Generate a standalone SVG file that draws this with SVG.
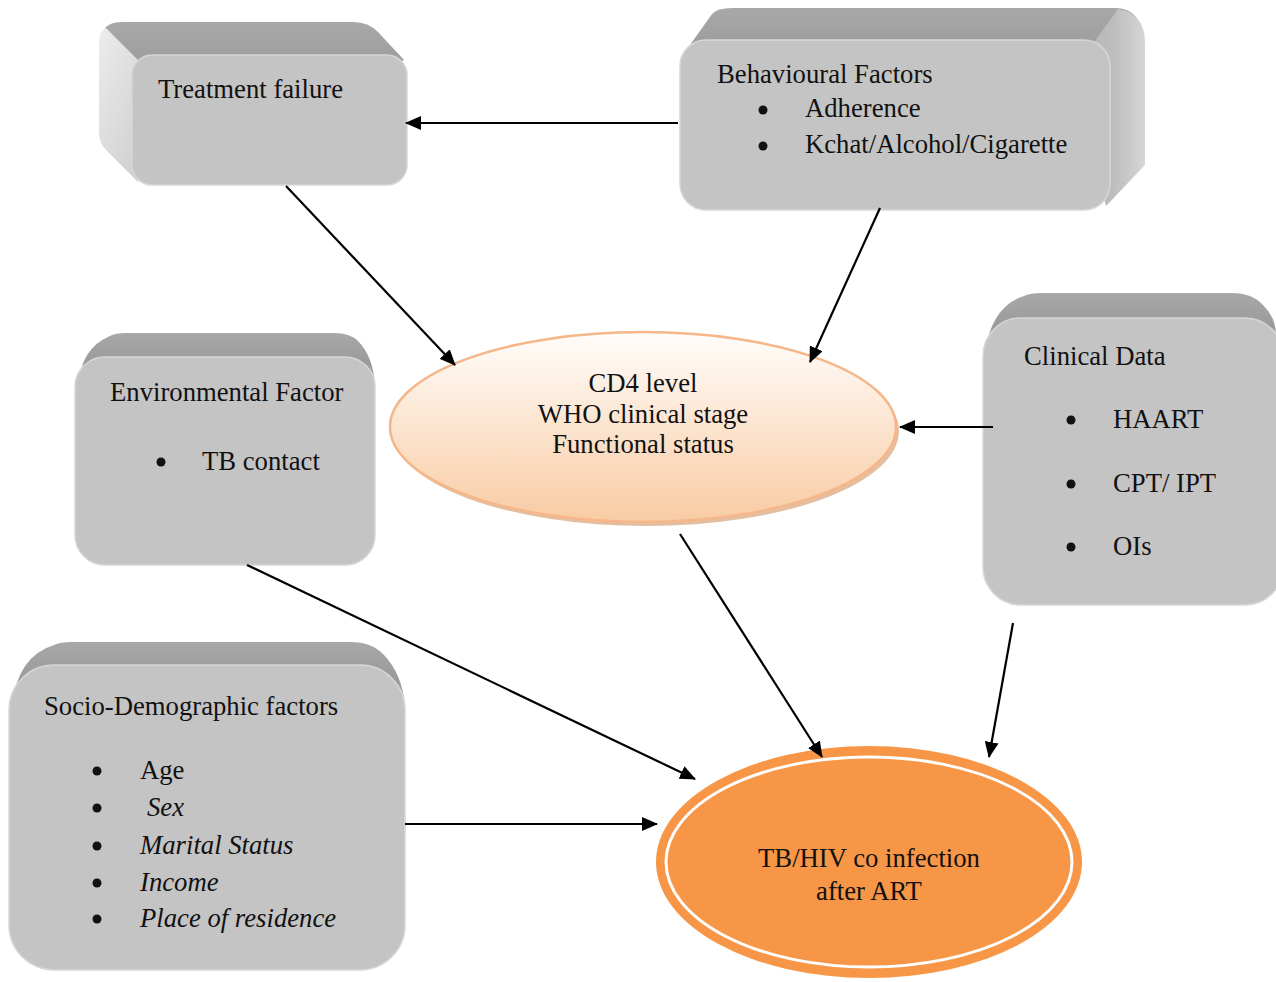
<svg xmlns="http://www.w3.org/2000/svg" width="1276" height="982" viewBox="0 0 1276 982">
<defs>
<style>
text{font-family:"Liberation Serif","Times New Roman",serif;font-size:26.7px;fill:#111}
.it{font-style:italic}
.front{fill:#c4c4c4;stroke:#d6d6d6;stroke-width:1.5}
.top{fill:url(#gTop)}
.conn{stroke:#000;stroke-width:2.2;fill:none;marker-end:url(#ah)}
</style>
<linearGradient id="gTop" x1="0" y1="0" x2="0" y2="1">
<stop offset="0" stop-color="#a8a8a8"/><stop offset="0.6" stop-color="#9a9a9a"/><stop offset="1" stop-color="#b0b0b0"/>
</linearGradient>
<linearGradient id="gLeft" x1="0" y1="0" x2="1" y2="1">
<stop offset="0" stop-color="#ececec"/><stop offset="1" stop-color="#c8c8c8"/>
</linearGradient>
<linearGradient id="gRight" x1="1" y1="0" x2="0" y2="0">
<stop offset="0" stop-color="#d6d6d6"/><stop offset="0.5" stop-color="#bdbdbd"/><stop offset="1" stop-color="#b4b4b4"/>
</linearGradient>
<linearGradient id="gCD4" x1="0" y1="0" x2="0" y2="1">
<stop offset="0" stop-color="#fffdfb"/><stop offset="1" stop-color="#f8cba3"/>
</linearGradient>
<marker id="ah" viewBox="0 0 16 14" refX="15" refY="7" markerWidth="16" markerHeight="14" markerUnits="userSpaceOnUse" orient="auto">
<path d="M0,0 L16,7 L0,14 Z" fill="#000"/>
</marker>
</defs>

<g id="treatment-failure">
<path class="top" d="M104,30 Q108,22 122,22 L354,22 Q368,22 378,32 L404,60 L300,110 L140,80 Z"/>
<path fill="url(#gLeft)" d="M99,42 Q99,32 106,28 L140,62 L160,120 L138,182 L106,150 Q99,143 99,132 Z"/>
<rect class="front" x="132" y="55" width="275" height="130" rx="20"/>
<text x="158" y="98">Treatment failure</text>
</g>

<g id="behavioural-factors">
<path class="top" d="M690,45 L712,14 Q717,8 732,8 L1115,8 Q1135,8 1142,28 L1100,80 L800,90 Z"/>
<path fill="url(#gRight)" d="M1118,9 Q1145,14 1145,42 L1145,165 L1106,206 L1080,110 L1092,45 Z"/>
<rect class="front" x="680" y="40" width="430" height="170" rx="26"/>
<text x="717" y="83">Behavioural Factors</text>
<circle cx="763" cy="110" r="4.5" fill="#111"/>
<text x="805" y="117">Adherence</text>
<circle cx="763" cy="146" r="4.5" fill="#111"/>
<text x="805" y="153">Kchat/Alcohol/Cigarette</text>
</g>

<g id="environmental-factor">
<path class="top" d="M78,385 Q82,348 108,337 Q114,333 126,333 L334,333 Q350,333 358,341 Q373,356 375,385 Z"/>
<rect class="front" x="75" y="357" width="300" height="208" rx="30"/>
<text x="110" y="401">Environmental Factor</text>
<circle cx="161" cy="462" r="4.5" fill="#111"/>
<text x="202" y="470">TB contact</text>
</g>

<g id="clinical-data">
<path class="top" d="M985,352 Q992,306 1024,296 Q1030,293 1042,293 L1232,293 Q1252,293 1263,305 Q1276,318 1276,335 Z"/>
<rect class="front" x="983" y="318" width="300" height="287" rx="38"/>
<text x="1024" y="365">Clinical Data</text>
<circle cx="1071" cy="420" r="4.5" fill="#111"/>
<text x="1113" y="428">HAART</text>
<circle cx="1071" cy="484" r="4.5" fill="#111"/>
<text x="1113" y="492">CPT/ IPT</text>
<circle cx="1071" cy="547" r="4.5" fill="#111"/>
<text x="1113" y="555">OIs</text>
</g>

<g id="socio-demographic">
<path class="top" d="M12,705 Q18,656 54,645 Q60,642 72,642 L350,642 Q372,642 384,655 Q402,674 405,705 Z"/>
<rect class="front" x="9" y="665" width="396" height="305" rx="45"/>
<text x="44" y="715">Socio-Demographic factors</text>
<circle cx="97" cy="771" r="4.5" fill="#111"/>
<text x="140" y="779">Age</text>
<circle cx="97" cy="808" r="4.5" fill="#111"/>
<text x="147" y="816" class="it">Sex</text>
<circle cx="97" cy="846" r="4.5" fill="#111"/>
<text x="140" y="854" class="it">Marital Status</text>
<circle cx="97" cy="883" r="4.5" fill="#111"/>
<text x="140" y="891" class="it">Income</text>
<circle cx="97" cy="919" r="4.5" fill="#111"/>
<text x="140" y="927" class="it">Place of residence</text>
</g>

<g id="cd4">
<ellipse cx="646" cy="431" rx="253" ry="95" fill="#dcae8a" opacity="0.8"/>
<ellipse cx="643" cy="427" rx="253" ry="95" fill="url(#gCD4)" stroke="#f5b789" stroke-width="2.5"/>
<text x="643" y="392" text-anchor="middle">CD4 level</text>
<text x="643" y="423" text-anchor="middle">WHO clinical stage</text>
<text x="643" y="453" text-anchor="middle">Functional status</text>
</g>

<g id="tbhiv">
<ellipse cx="869" cy="862" rx="213" ry="116" fill="#f79646"/>
<ellipse cx="869" cy="862" rx="203" ry="105" fill="none" stroke="#fff" stroke-width="3"/>
<text x="869" y="867" text-anchor="middle">TB/HIV co infection</text>
<text x="869" y="900" text-anchor="middle">after ART</text>
</g>

<g id="connectors">
<line class="conn" x1="678" y1="123" x2="406" y2="123"/>
<line class="conn" x1="286" y1="186" x2="455" y2="365"/>
<line class="conn" x1="880" y1="208" x2="810" y2="362"/>
<line class="conn" x1="993" y1="427" x2="900" y2="427"/>
<line class="conn" x1="680" y1="534" x2="822" y2="757"/>
<line class="conn" x1="247" y1="565" x2="695" y2="779"/>
<line class="conn" x1="1013" y1="623" x2="989" y2="757"/>
<line class="conn" x1="405" y1="824" x2="657" y2="824"/>
</g>
</svg>
